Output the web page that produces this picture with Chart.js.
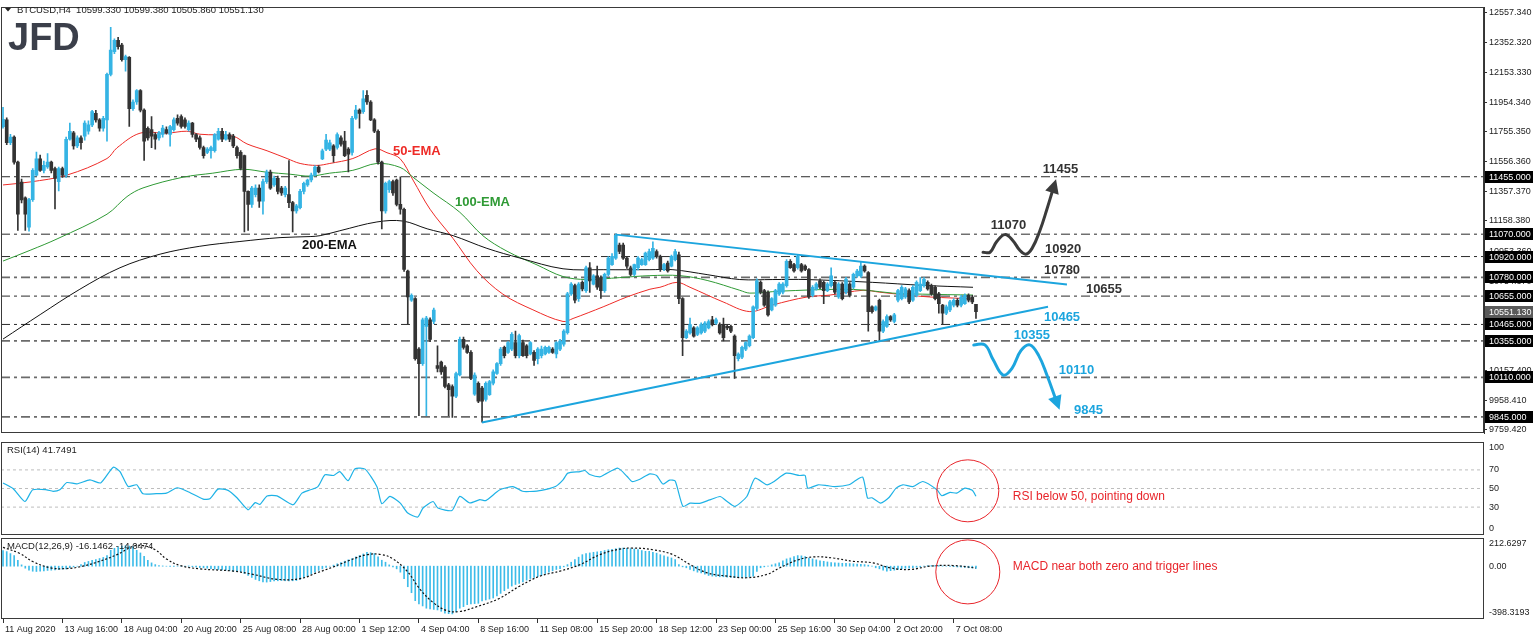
<!DOCTYPE html>
<html><head><meta charset="utf-8">
<script src="https://cdn.jsdelivr.net/npm/chart.js@4.4.0/dist/chart.umd.min.js"></script>
<style>
html,body{margin:0;padding:0;background:#fff;width:1536px;height:639px;overflow:hidden}
canvas{position:absolute;left:0}
</style></head><body>
<canvas id="cMain" width="1536" height="441" style="top:0"></canvas>
<canvas id="cRsi" width="1536" height="96" style="top:441px"></canvas>
<canvas id="cMacd" width="1536" height="102" style="top:537px"></canvas>
<script>
// ---------------- DATA ----------------
const xLabels = ['11 Aug 2020','13 Aug 16:00','18 Aug 04:00','20 Aug 20:00','25 Aug 08:00','28 Aug 00:00','1 Sep 12:00','4 Sep 04:00','8 Sep 16:00','11 Sep 08:00','15 Sep 20:00','18 Sep 12:00','23 Sep 00:00','25 Sep 16:00','30 Sep 04:00','2 Oct 20:00','7 Oct 08:00'];
const barsPerLabel = 16;
const opens = [11790,11836,11683,11720,11553,11420,11313,11117,11302,11466,
11575,11498,11520,11553,11510,11422,11510,11466,11706,11749,
11662,11716,11727,11760,11803,11880,11836,11781,11836,12141,
12294,12370,12337,12239,12255,11912,11956,12032,11902,11780,
11771,11738,11716,11738,11771,11738,11771,11847,11858,11836,
11771,11814,11738,11716,11651,11618,11629,11629,11706,11760,
11706,11738,11727,11651,11618,11596,11357,11270,11335,11379,
11291,11422,11487,11400,11444,11379,11335,11335,11281,11226,
11248,11357,11400,11433,11466,11520,11575,11640,11640,11662,
11651,11716,11694,11640,11618,11847,11902,11891,12000,11956,
11836,11760,11553,11226,11368,11422,11433,11270,11237,10823,
10627,10638,10300,10202,10452,10496,10485,10190,10213,10180,
10060,10049,9984,10126,10365,10322,10278,9997,10071,10038,
9962,9995,10071,10136,10202,10311,10278,10300,10343,10256,
10343,10322,10267,10278,10235,10256,10267,10278,10300,10267,
10300,10333,10410,10670,10725,10638,10747,10692,10845,10735,
10790,10779,10692,10801,10866,10910,10997,10997,10910,10845,
10801,10845,10866,10866,10899,10910,10954,10921,10833,10877,
10856,10899,10932,10638,10376,10409,10442,10398,10409,10420,
10442,10496,10474,10464,10464,10452,10452,10387,10235,10245,
10300,10322,10376,10572,10747,10692,10681,10562,10594,10670,
10681,10725,10888,10866,10845,10866,10856,10833,10660,10703,
10757,10747,10692,10725,10747,10649,10735,10681,10735,10714,
10790,10790,10856,10812,10583,10562,10627,10420,10452,10518,
10485,10627,10638,10649,10692,10627,10660,10692,10725,10747,
10725,10714,10670,10594,10540,10562,10594,10627,10594,10605,
10660,10649,10599.33];
const highs = [11920,11850,11740,11730,11560,11440,11320,11310,11510,11620,
11600,11560,11610,11560,11520,11520,11520,11720,11814,11760,
11730,11730,11830,11830,11900,11900,11845,11860,12150,12457,
12380,12390,12350,12270,12260,11970,12040,12040,11910,11790,
11858,11750,11760,11800,11790,11800,11850,11870,11870,11850,
11830,11820,11745,11730,11660,11650,11660,11745,11780,11780,
11760,11750,11740,11660,11630,11600,11360,11390,11400,11400,
11440,11500,11500,11460,11460,11390,11390,11564,11290,11270,
11370,11420,11440,11480,11530,11530,11640,11740,11700,11670,
11750,11730,11760,11650,11860,11934,11910,12032,12032,11965,
11845,11770,11560,11420,11433,11433,11440,11455,11245,10830,
10670,10645,10310,10507,10520,10510,10575,10322,10220,10190,
10070,10060,10145,10380,10380,10330,10290,10140,10080,10050,
10080,10090,10160,10210,10311,10320,10350,10410,10420,10400,
10360,10330,10350,10290,10310,10320,10320,10320,10310,10350,
10365,10430,10680,10745,10735,10745,10757,10856,10880,10800,
10856,10790,10810,10920,10940,11073,11010,11010,10920,10856,
10870,10920,10910,10950,10970,11019,10965,10930,10875,10890,
10930,10969,10950,10645,10430,10507,10450,10450,10475,10485,
10496,10520,10507,10475,10507,10460,10460,10395,10275,10320,
10350,10395,10590,10770,10757,10700,10690,10645,10700,10745,
10745,10900,10900,10875,10932,10875,10865,10840,10725,10745,
10770,10757,10745,10845,10757,10745,10745,10780,10745,10810,
10835,10888,10865,10820,10590,10590,10635,10496,10530,10525,
10540,10700,10725,10714,10703,10725,10757,10779,10779,10757,
10735,10725,10680,10600,10594,10627,10638,10638,10660,10670,
10670,10660,10599.38];
const lows = [11780,11670,11670,11540,11095,11280,11095,11090,11290,11460,
11490,11480,11510,11480,11240,11360,11450,11450,11700,11640,
11650,11640,11700,11740,11790,11820,11760,11760,11694,12130,
12280,12310,12230,12163,11792,11900,11940,11890,11564,11700,
11650,11640,11700,11720,11740,11660,11760,11800,11780,11780,
11760,11720,11690,11640,11580,11610,11580,11620,11700,11690,
11700,11690,11650,11580,11500,11085,11095,11250,11320,11250,
11204,11410,11370,11390,11340,11330,11320,11248,11085,11210,
11240,11340,11390,11420,11460,11480,11570,11630,11630,11553,
11640,11660,11590,11487,11600,11840,11781,11880,11940,11830,
11750,11540,11106,11210,11350,11330,11260,11204,10820,10464,
10620,10225,9853,10190,9853,10350,10470,10147,10130,10040,
9853,9842,9975,10120,10300,10270,10095,9990,9940,9810,
9950,9990,10060,10130,10190,10240,10270,10290,10240,10240,
10250,10240,10260,10190,10200,10240,10260,10270,10270,10240,
10290,10320,10400,10660,10610,10620,10690,10680,10680,10730,
10700,10640,10680,10790,10860,10900,10940,10900,10840,10790,
10790,10830,10860,10860,10890,10900,10910,10820,10825,10815,
10850,10890,10605,10256,10370,10400,10380,10390,10400,10410,
10435,10455,10465,10400,10354,10430,10410,10104,10220,10235,
10290,10315,10370,10560,10670,10585,10520,10555,10585,10660,
10670,10715,10840,10815,10835,10815,10825,10640,10650,10695,
10705,10605,10685,10715,10670,10640,10630,10670,10650,10705,
10780,10780,10815,10420,10540,10555,10354,10410,10445,10485,
10475,10616,10630,10640,10605,10620,10650,10685,10715,10695,
10660,10630,10540,10464,10530,10551,10583,10583,10583,10600,
10616,10605,10505.86];
const closes = [11840,11683,11720,11553,11204,11300,11204,11302,11498,11575,
11498,11531,11553,11498,11444,11510,11466,11706,11760,11662,
11716,11683,11814,11803,11891,11836,11781,11847,12141,12304,
12370,12326,12239,12261,11912,11956,12032,11902,11694,11716,
11727,11706,11749,11781,11749,11792,11836,11814,11792,11792,
11814,11738,11706,11651,11596,11640,11651,11738,11760,11706,
11738,11706,11662,11596,11510,11357,11270,11379,11379,11291,
11422,11487,11379,11444,11357,11346,11379,11281,11226,11260,
11357,11411,11433,11466,11520,11487,11629,11700,11683,11596,
11738,11673,11596,11607,11847,11902,11880,11977,11956,11836,
11760,11553,11226,11411,11422,11346,11270,11237,10833,10649,
10660,10235,10202,10496,10507,10365,10562,10170,10147,10049,
10028,9984,10136,10365,10311,10278,10104,10126,9951,9951,
10071,10082,10147,10202,10300,10256,10343,10398,10256,10390,
10256,10256,10343,10224,10300,10300,10311,10311,10278,10343,
10354,10420,10670,10735,10627,10735,10703,10845,10757,10790,
10714,10692,10801,10910,10921,11062,10954,10910,10856,10801,
10866,10910,10899,10943,10954,10975,10921,10833,10866,10823,
10921,10954,10638,10376,10420,10464,10387,10442,10464,10474,
10485,10464,10496,10409,10376,10442,10420,10256,10267,10311,
10343,10387,10583,10757,10681,10594,10529,10638,10692,10735,
10735,10888,10845,10823,10921,10823,10833,10649,10714,10735,
10714,10692,10735,10790,10681,10735,10638,10768,10660,10801,
10823,10856,10823,10551,10551,10583,10420,10485,10518,10496,
10529,10692,10714,10703,10616,10714,10747,10735,10768,10703,
10670,10638,10605,10540,10583,10616,10627,10594,10649,10660,
10627,10616,10551.13];
// EMA readings: [bar index, price]
const ema50 = [[0,11400],[7.3,11420],[17.2,11466],[28,11577],[30.7,11649],[36.9,11747],[44.2,11747],[49.5,11760],[53,11740],[61.9,11727],[65.7,11675],[71.1,11629],[76.5,11577],[80,11544],[84.5,11531],[88,11544],[94.2,11577],[100.2,11642],[103.4,11616],[106.9,11577],[110.4,11433],[115,11237],[121.2,11041],[127.6,10825],[134.6,10668],[142.7,10563],[150.8,10485],[153.5,10505],[161.6,10583],[168,10649],[174.2,10701],[176.9,10714],[181.5,10747],[185,10714],[193.9,10616],[201.1,10551],[207.3,10596],[216.5,10649],[222.7,10662],[231.6,10694],[236.1,10681],[243.4,10662],[249.6,10649],[255.8,10642],[261.2,10636]];
const ema100 = [[0,10890],[7.3,10962],[14.8,11041],[28,11204],[33.4,11322],[37.7,11380],[48.5,11452],[56.5,11479],[64.6,11505],[71.1,11485],[77.3,11472],[82.7,11459],[88,11479],[94.2,11498],[100.7,11544],[106.9,11518],[110.4,11452],[115.8,11348],[123,11217],[129.2,11060],[135.7,10956],[143.8,10864],[150.8,10786],[157.2,10766],[166.1,10779],[174.2,10792],[182.3,10792],[189.6,10760],[198.4,10694],[201.1,10675],[209.2,10688],[225.4,10701],[232.6,10694],[239.6,10675],[247.7,10668],[261.2,10662]];
const ema200 = [[0,10367],[10,10531],[20.7,10701],[31.5,10845],[42.3,10936],[53,10989],[63.8,11021],[74.6,11047],[82.7,11054],[85.4,11060],[90.7,11093],[100.7,11152],[107.7,11158],[114.2,11106],[121.2,11060],[130.3,10975],[139.2,10910],[150.8,10838],[161.6,10832],[174.2,10832],[180.4,10832],[189.6,10799],[198.4,10766],[207.3,10766],[216.5,10766],[234.2,10747],[247.7,10727],[261.2,10714]];
const levels = [11455,11070,10920,10780,10655,10465,10355,10110,9845];
const priceTicks = [12557.34,12352.32,12153.33,11954.34,11755.35,11556.36,11357.37,11158.38,10953.36,10754.37,10555.38,10356.39,10157.40,9958.41,9759.42];
const upperTrend = [[165.05,11067],[286.5,10733]];
const lowerTrend = [[128.97,9808],[281.4,10583]];
const bullPath = [[263.9,10949],[265.8,10949],[267.6,11021],[269.8,11067],[271.9,11028],[273.8,10962],[275.4,10936],[277.1,10975],[279.2,11093],[281.1,11237],[282.7,11368]];
const bearPath = [[261.4,10328],[264.4,10328],[266.6,10230],[269.3,10126],[271.7,10171],[274.1,10289],[276.5,10328],[278.9,10256],[281.1,10126],[283.5,9962]];
const rsi = [[0,56],[2.7,50],[5.9,36],[8,48.6],[11.8,48.6],[13.5,47],[15.3,48.6],[17.2,56.4],[19.9,55],[23.4,59.3],[26.3,56],[29.7,72.9],[31.5,68.2],[33.7,52.1],[36,54],[37.7,44.3],[41.3,44.5],[44,45],[46.9,50.8],[49.6,47],[53.9,38.6],[55.7,39],[57.9,49.3],[60.6,48],[63,40],[66,27.1],[67.9,34.8],[69.2,33],[71.1,42],[73.8,42],[78.1,32.5],[80.5,45],[82.8,48.6],[84.8,52.1],[86.7,64.7],[89,64],[90.7,68.2],[92.9,58.4],[94.8,71.3],[97.5,70.8],[100.7,52],[102,33.6],[104.2,41.5],[106.9,34.5],[109,23.6],[111.7,19.3],[113.1,29],[115.8,36],[117.1,29],[120.9,26.4],[123,41.5],[125.7,34.5],[128.4,38],[130,37],[133.8,48.6],[137.3,52],[139.9,47],[141.9,46.8],[145,48],[148.9,52.5],[150.8,59.3],[152.1,66.5],[155.4,68.2],[156.7,69.3],[158,65],[160.7,62.4],[162,65],[165.6,71.8],[168,63.2],[169.4,57.5],[171.5,60],[174.2,65.7],[176,64],[177.7,54.8],[179.5,59],[181,58],[183.1,30.7],[185,34.2],[187.6,34],[190.3,37.7],[193.1,41.4],[195,36],[197.1,30.7],[200.3,41.4],[202.5,61.1],[205.7,54],[207.4,57],[210.9,66.5],[214.5,64],[216,64],[216.7,50.4],[219.5,54],[222,53],[224,52],[227.8,54],[229.2,57.5],[231.5,62.2],[232.8,39.7],[234,40],[236.3,34.3],[238.5,40],[240.5,50.4],[242.3,54],[245,52],[247.7,57.5],[251.5,48.6],[252.8,42.2],[255,45.9],[256.8,45],[259,50.4],[261,48],[262,41.7]];
const rsiLevels = [70,50,30];
const macdHist = [118,110,95,80,45,10,-15,-30,-38,-40,
-38,-35,-32,-30,-28,-25,-22,-20,-12,-5,
0,12,28,36,44,50,58,66,80,120,
135,145,152,155,152,148,120,100,75,45,
25,12,5,2,0,-2,-2,0,0,0,
2,-4,-6,-10,-12,-15,-18,-22,-25,-28,
-30,-34,-38,-40,-42,-55,-70,-85,-100,-110,
-118,-120,-116,-112,-110,-108,-110,-112,-110,-108,
-100,-88,-75,-58,-45,-32,-20,-10,0,8,
18,28,38,48,58,70,80,92,105,102,
95,70,45,30,10,-5,-20,-45,-95,-155,
-200,-260,-285,-300,-317,-322,-326,-330,-340,-354,
-358,-360,-345,-317,-305,-290,-285,-282,-280,-262,
-255,-248,-240,-225,-205,-185,-168,-150,-138,-130,
-118,-105,-93,-85,-78,-70,-55,-45,-35,-25,
-18,-5,12,30,50,68,87,95,100,105,
108,112,118,124,128,132,137,137,135,132,
130,125,118,112,112,105,98,87,78,70,
62,50,12,-5,-12,-25,-35,-45,-50,-60,
-70,-75,-78,-80,-80,-82,-84,-86,-87,-86,
-85,-80,-75,-40,-12,-5,0,10,18,25,
40,55,62,72,80,78,72,62,55,48,
40,37,32,28,25,24,22,21,20,18,
16,14,12,8,0,-12,-20,-30,-37,-34,
-30,-25,-20,-16,-14,-12,-8,-4,0,4,
5,5,4,2,0,-2,-4,-6,-8,-10,
-12,-14,-16];
const macdSignal = [[0,142],[4.6,95],[8,35],[12.7,-12],[17,-18],[21.5,0],[26,37],[30.7,87],[35,150],[37.7,155],[41,124],[44,55],[47.7,5],[53,-20],[62,-37],[67.3,-62],[73.8,-99],[80,-94],[84.5,-50],[89,-5],[93.4,45],[98,87],[102,87],[105,55],[108.8,-37],[112.3,-174],[115.8,-273],[119.5,-335],[123,-342],[127.6,-305],[133.5,-245],[139.2,-149],[144.6,-75],[150,-37],[155.4,12],[160.7,87],[166.1,129],[169.6,137],[175,124],[180.4,87],[185,12],[189.6,-50],[195,-75],[200.3,-87],[205.7,-62],[209.2,-12],[213.8,45],[218.1,70],[223.5,62],[228.9,37],[234.3,25],[238.8,-12],[244.2,-25],[249.6,0],[255.8,5],[262,-14]];

// ---------------- STYLE / LAYOUT ----------------
const FONT = '"Liberation Sans", Arial, sans-serif';
const UP = '#35B4E4', DOWN = '#333333', CYAN = '#1CA5DE', RED = '#E8252B';
const X_MIN = -0.54, X_MAX = 398.8;
const heavyLevels = [10780, 10355, 10110, 9845];
const idx = opens.map((_, i) => i);
const isUp = i => closes[i] >= opens[i];
const pts = arr => arr.map(([x, y]) => ({x, y}));

function frame(chart) {
  const {ctx, chartArea: a} = chart;
  ctx.save(); ctx.strokeStyle = '#3a3a3a'; ctx.lineWidth = 1;
  ctx.strokeRect(Math.round(a.left) + 0.5, Math.round(a.top) + 0.5, Math.round(a.right - a.left) - 1, Math.round(a.bottom - a.top) - 1);
  ctx.restore();
}
function arrowHead(ctx, p1, p2, color) {
  const dx = p2.x - p1.x, dy = p2.y - p1.y, L = Math.hypot(dx, dy), ux = dx / L, uy = dy / L;
  const len = 14, w = 7;
  const tx = p2.x + ux * 11, ty = p2.y + uy * 11;
  const bx = tx - ux * len, by = ty - uy * len;
  ctx.save(); ctx.fillStyle = color; ctx.beginPath();
  ctx.moveTo(tx, ty); ctx.lineTo(bx - uy * w, by + ux * w); ctx.lineTo(bx + uy * w, by - ux * w); ctx.closePath(); ctx.fill(); ctx.restore();
}

// ---------------- MAIN CHART ----------------
const mainDs = [];
levels.forEach(L => {
  const heavy = heavyLevels.includes(L);
  mainDs.push({type: 'line', data: [{x: X_MIN, y: L}, {x: X_MAX, y: L}], borderColor: heavy ? '#6b6b6b' : '#2a2a2a', borderWidth: heavy ? 1.7 : 1, borderDash: [9, 4, 3, 4], pointRadius: 0, order: 20});
});
mainDs.push({type: 'line', data: pts(ema200), borderColor: '#111', borderWidth: 1, pointRadius: 0, tension: 0.35, order: 8});
mainDs.push({type: 'line', data: pts(ema100), borderColor: '#2F9A35', borderWidth: 1, pointRadius: 0, tension: 0.35, order: 8});
mainDs.push({type: 'line', data: pts(ema50), borderColor: '#EE2B27', borderWidth: 1, pointRadius: 0, tension: 0.35, order: 8});
mainDs.push({type: 'bar', data: idx.map(i => ({x: i, y: [lows[i], highs[i]]})), backgroundColor: idx.map(i => isUp(i) ? UP : DOWN), barThickness: 1, grouped: false, order: 6});
mainDs.push({type: 'bar', data: idx.map(i => ({x: i, y: [opens[i], closes[i]]})), backgroundColor: idx.map(i => isUp(i) ? UP : DOWN), barThickness: 3, minBarLength: 1, grouped: false, order: 5});
mainDs.push({type: 'line', data: pts(upperTrend), borderColor: CYAN, borderWidth: 2, pointRadius: 0, order: 3});
mainDs.push({type: 'line', data: pts(lowerTrend), borderColor: CYAN, borderWidth: 2, pointRadius: 0, order: 3});
const bullIdx = mainDs.length;
mainDs.push({type: 'line', data: pts(bullPath), borderColor: '#3b3b3b', borderWidth: 3, pointRadius: 0, tension: 0.4, borderCapStyle: 'round', order: 1});
const bearIdx = mainDs.length;
mainDs.push({type: 'line', data: pts(bearPath), borderColor: CYAN, borderWidth: 3, pointRadius: 0, tension: 0.4, borderCapStyle: 'round', order: 1});

const DARK = '#333333';
const annotTexts = [
  ['11455', 280, 11505, DARK], ['11070', 266, 11126, DARK], ['10920', 280.6, 10969, DARK],
  ['10780', 280.3, 10825, DARK], ['10655', 291.6, 10701, DARK],
  ['10465', 280.3, 10511, CYAN], ['10355', 272.2, 10394, CYAN], ['10110', 284.3, 10158, CYAN], ['9845', 288.4, 9890, CYAN],
  ['50-EMA', 105, 11622, '#EE2B27'], ['100-EMA', 121.7, 11283, '#2F9A35'], ['200-EMA', 80.5, 10995, '#111']
];

const mainPlugin = {
  id: 'mainDeco',
  afterDatasetsDraw(chart) {
    const {ctx, scales: {x, y}} = chart;
    [[bullIdx, '#3b3b3b'], [bearIdx, CYAN]].forEach(([di, c]) => {
      const d = chart.getDatasetMeta(di).data; const n = d.length;
      arrowHead(ctx, d[n - 2], d[n - 1], c);
    });
    ctx.save(); ctx.font = 'bold 13px ' + FONT; ctx.textBaseline = 'middle'; ctx.textAlign = 'left';
    annotTexts.forEach(([s, i, p, c]) => { ctx.fillStyle = c; ctx.fillText(s, x.getPixelForValue(i), y.getPixelForValue(p)); });
    ctx.restore();
  },
  afterDraw(chart) {
    const {ctx, chartArea: a, scales: {y}} = chart;
    frame(chart);
    ctx.save();
    ctx.font = '9px ' + FONT; ctx.textBaseline = 'middle'; ctx.textAlign = 'left';
    levels.forEach(L => {
      const py = Math.round(y.getPixelForValue(L));
      ctx.fillStyle = '#000'; ctx.fillRect(a.right + 1, py - 6, 48, 12);
      ctx.fillStyle = '#fff'; ctx.fillText(L.toFixed(3), a.right + 5, py + 0.5);
    });
    const last = closes[closes.length - 1];
    const py = Math.round(y.getPixelForValue(last));
    ctx.fillStyle = '#5a5a5a'; ctx.fillRect(a.right + 1, py - 6, 48, 12);
    ctx.fillStyle = '#fff'; ctx.fillText(last.toFixed(3), a.right + 5, py + 0.5);
    // header
    ctx.fillStyle = '#222';
    ctx.beginPath(); ctx.moveTo(5, 8); ctx.lineTo(11, 8); ctx.lineTo(8, 11.5); ctx.closePath(); ctx.fill();
    ctx.font = '9.5px ' + FONT;
    ctx.fillText('BTCUSD,H4  ' + [opens, highs, lows, closes].map(a2 => a2[a2.length - 1].toFixed(3)).join(' '), 17, 10);
    // logo
    ctx.fillStyle = '#3b3f4a'; ctx.font = 'bold 38px ' + FONT; ctx.textBaseline = 'alphabetic';
    ctx.fillText('JFD', 8, 50);
    ctx.restore();
  }
};

new Chart(document.getElementById('cMain'), {
  type: 'bar',
  data: {datasets: mainDs},
  options: {
    responsive: false, animation: false, devicePixelRatio: 1, events: [],
    layout: {padding: {top: 3, left: 1, bottom: 1, right: 0}},
    plugins: {legend: {display: false}, tooltip: {enabled: false}},
    scales: {
      x: {type: 'linear', min: X_MIN, max: X_MAX, display: false, offset: false, grid: {offset: false}},
      y: {position: 'right', min: 9733.35, max: 12590.03,
        afterFit: s => { s.width = 52; },
        afterBuildTicks: s => { s.ticks = priceTicks.map(v => ({value: v})); },
        grid: {drawOnChartArea: false, tickLength: 3, color: '#333'},
        border: {display: true, color: '#333'},
        ticks: {autoSkip: false, padding: 2, color: '#222', font: {family: FONT, size: 9}, callback: v => Number(v).toFixed(3)}
      }
    }
  },
  plugins: [mainPlugin]
});

// ---------------- RSI ----------------
const rsiDs = [];
rsiLevels.forEach(L => rsiDs.push({type: 'line', data: [{x: X_MIN, y: L}, {x: X_MAX, y: L}], borderColor: '#bdbdbd', borderWidth: 1, borderDash: [3, 3], pointRadius: 0, order: 5}));
rsiDs.push({type: 'line', data: pts(rsi), borderColor: '#1EB2E6', borderWidth: 1.2, pointRadius: 0, tension: 0.2, order: 1});

function sideLabels(chart, list) {
  const {ctx, chartArea: a, scales: {y}} = chart;
  ctx.save(); ctx.font = '9px ' + FONT; ctx.fillStyle = '#222'; ctx.textBaseline = 'middle'; ctx.textAlign = 'left';
  list.forEach(([v, txt, off]) => ctx.fillText(txt, a.right + 5, y.getPixelForValue(v) + off));
  ctx.restore();
}
function noteCircle(chart, ci, cv, r, text, ti, tv) {
  const {ctx, scales: {x, y}} = chart;
  ctx.save(); ctx.strokeStyle = RED; ctx.lineWidth = 1;
  ctx.beginPath(); ctx.arc(x.getPixelForValue(ci), y.getPixelForValue(cv), r, 0, Math.PI * 2); ctx.stroke();
  ctx.fillStyle = RED; ctx.font = '12px ' + FONT; ctx.textBaseline = 'middle'; ctx.textAlign = 'left';
  ctx.fillText(text, x.getPixelForValue(ti), y.getPixelForValue(tv));
  ctx.restore();
}

new Chart(document.getElementById('cRsi'), {
  type: 'line',
  data: {datasets: rsiDs},
  options: {
    responsive: false, animation: false, devicePixelRatio: 1, events: [],
    layout: {padding: {top: 1, left: 1, bottom: 2, right: 0}},
    plugins: {legend: {display: false}, tooltip: {enabled: false}},
    scales: {
      x: {type: 'linear', min: X_MIN, max: X_MAX, display: false},
      y: {position: 'right', min: 0, max: 100, afterFit: s => { s.width = 52; },
        grid: {display: false}, border: {display: false}, ticks: {display: false}}
    }
  },
  plugins: [{
    id: 'rsiDeco',
    afterDraw(chart) {
      frame(chart);
      sideLabels(chart, [[100, '100', 6], [70, '70', 0], [50, '50', 0], [30, '30', 0], [0, '0', -6]]);
      const {ctx} = chart;
      ctx.save(); ctx.font = '9.5px ' + FONT; ctx.fillStyle = '#222'; ctx.textBaseline = 'middle';
      ctx.fillText('RSI(14) 41.7491', 7, 9); ctx.restore();
      noteCircle(chart, 259.8, 47.5, 31, 'RSI below 50, pointing down', 271.9, 41);
    }
  }]
});

// ---------------- MACD ----------------
const tickIdx = xLabels.map((_, k) => k * barsPerLabel);
new Chart(document.getElementById('cMacd'), {
  type: 'bar',
  data: {datasets: [
    {type: 'line', data: pts(macdSignal), borderColor: '#111', borderWidth: 1.2, borderDash: [2, 2], pointRadius: 0, tension: 0.4, order: 1},
    {type: 'bar', data: macdHist.map((v, i) => ({x: i, y: v})), backgroundColor: '#3DBCE9', barThickness: 1, grouped: false, order: 2}
  ]},
  options: {
    responsive: false, animation: false, devicePixelRatio: 1, events: [],
    layout: {padding: {top: 1, left: 1, bottom: 0, right: 0}},
    plugins: {legend: {display: false}, tooltip: {enabled: false}},
    scales: {
      x: {type: 'linear', min: X_MIN, max: X_MAX, offset: false, position: 'bottom',
        afterBuildTicks: s => { s.ticks = tickIdx.map(v => ({value: v})); },
        afterFit: s => { s.height = 20; },
        grid: {display: true, offset: false, drawOnChartArea: false, drawTicks: true, tickLength: 4, color: '#333'},
        border: {display: false},
        ticks: {autoSkip: false, maxRotation: 0, minRotation: 0, align: 'start', labelOffset: 2, padding: 1, color: '#222', font: {family: FONT, size: 9},
          callback: (v, k) => xLabels[k]}
      },
      y: {position: 'right', min: -398.3193, max: 212.6297, afterFit: s => { s.width = 52; },
        grid: {display: false}, border: {display: false}, ticks: {display: false}}
    }
  },
  plugins: [{
    id: 'macdDeco',
    afterDraw(chart) {
      frame(chart);
      sideLabels(chart, [[212.6297, '212.6297', 6], [0, '0.00', 0], [-398.3193, '-398.3193', -6]]);
      const {ctx} = chart;
      ctx.save(); ctx.font = '9.5px ' + FONT; ctx.fillStyle = '#222'; ctx.textBaseline = 'middle';
      ctx.fillText('MACD(12,26,9) -16.1462 -14.0474', 7, 9); ctx.restore();
      noteCircle(chart, 259.8, -43, 32, 'MACD near both zero and trigger lines', 271.9, -5);
    }
  }]
});
</script>
</body></html>
